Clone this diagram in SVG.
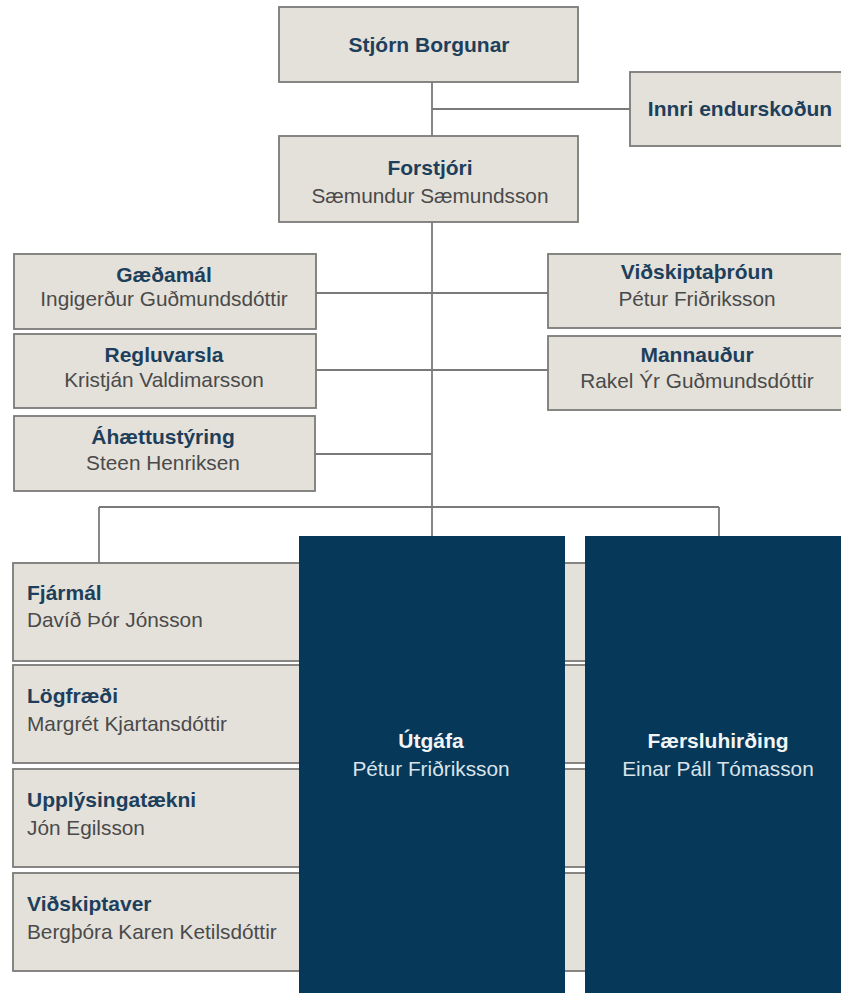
<svg xmlns="http://www.w3.org/2000/svg" width="841" height="993" viewBox="0 0 841 993">
<style>
.box{fill:#e4e1da;stroke:#7a7a78;stroke-width:1.8}
.dark{fill:#053859}
.t{font-family:"Liberation Sans",Arial,sans-serif;font-weight:bold;font-size:21px;fill:#1d3f5c}
.n{font-family:"Liberation Sans",Arial,sans-serif;font-size:20.8px;fill:#4a4a4a}
.c{text-anchor:middle}
.tw{font-family:"Liberation Sans",Arial,sans-serif;font-weight:bold;font-size:21px;fill:#f2f4f5;text-anchor:middle}
.nw{font-family:"Liberation Sans",Arial,sans-serif;font-size:20.8px;fill:#dbe4ea;text-anchor:middle}
.ln{stroke:#7a7a78;stroke-width:1.8;fill:none}
</style>
<rect width="841" height="993" fill="#ffffff"/>
<g id="connectors">
<path class="ln" d="M432 82V136"/>
<path class="ln" d="M432 109H630"/>
<path class="ln" d="M432 222V536"/>
<path class="ln" d="M316 293H548"/>
<path class="ln" d="M316 370H548"/>
<path class="ln" d="M315 454H432"/>
<path class="ln" d="M99 507H719"/>
<path class="ln" d="M99 507V563"/>
<path class="ln" d="M719 507V536"/>
</g>
<g id="stjorn">
<rect class="box" x="279" y="7" width="299" height="75"/>
<text class="t c" x="429" y="52">Stjórn Borgunar</text>
</g>
<g id="innri">
<rect class="box" x="630" y="72" width="220" height="74"/>
<text class="t c" x="740" y="116">Innri endurskoðun</text>
</g>
<g id="forstjori">
<rect class="box" x="279" y="136" width="299" height="86"/>
<text class="t c" x="430" y="175">Forstjóri</text>
<text class="n c" x="430" y="203">Sæmundur Sæmundsson</text>
</g>
<g id="gaedamal">
<rect class="box" x="14" y="254" width="302" height="75"/>
<text class="t c" x="164" y="282">Gæðamál</text>
<text class="n c" x="164" y="306">Ingigerður Guðmundsdóttir</text>
</g>
<g id="regluvarsla">
<rect class="box" x="14" y="334" width="302" height="74"/>
<text class="t c" x="164" y="362">Regluvarsla</text>
<text class="n c" x="164" y="387">Kristján Valdimarsson</text>
</g>
<g id="ahaettustyring">
<rect class="box" x="14" y="416" width="301" height="75"/>
<text class="t c" x="163" y="444">Áhættustýring</text>
<text class="n c" x="163" y="470">Steen Henriksen</text>
</g>
<g id="vidskiptathroun">
<rect class="box" x="548" y="254" width="298" height="74"/>
<text class="t c" x="697" y="279">Viðskiptaþróun</text>
<text class="n c" x="697" y="306">Pétur Friðriksson</text>
</g>
<g id="mannaudur">
<rect class="box" x="548" y="336" width="298" height="74"/>
<text class="t c" x="697" y="362">Mannauður</text>
<text class="n c" x="697" y="388">Rakel Ýr Guðmundsdóttir</text>
</g>
<g id="fjarmal">
<rect class="box" x="13" y="563" width="836" height="98"/>
<text class="t" x="27" y="600">Fjármál</text>
<text class="n" x="27" y="627">Davíð Þór Jónsson</text>
</g>
<g id="logfraedi">
<rect class="box" x="13" y="665" width="836" height="98"/>
<text class="t" x="27" y="703">Lögfræði</text>
<text class="n" x="27" y="731">Margrét Kjartansdóttir</text>
</g>
<g id="upplysingataekni">
<rect class="box" x="13" y="769" width="836" height="98"/>
<text class="t" x="27" y="807">Upplýsingatækni</text>
<text class="n" x="27" y="835">Jón Egilsson</text>
</g>
<g id="vidskiptaver">
<rect class="box" x="13" y="873" width="836" height="98"/>
<text class="t" x="27" y="911">Viðskiptaver</text>
<text class="n" x="27" y="939">Bergþóra Karen Ketilsdóttir</text>
</g>
<g id="utgafa">
<rect class="dark" x="299" y="536" width="266" height="460"/>
<text class="tw" x="431" y="748">Útgáfa</text>
<text class="nw" x="431" y="776">Pétur Friðriksson</text>
</g>
<g id="faersluhirding">
<rect class="dark" x="585" y="536" width="266" height="460"/>
<text class="tw" x="718" y="748">Færsluhirðing</text>
<text class="nw" x="718" y="776">Einar Páll Tómasson</text>
</g>
</svg>
